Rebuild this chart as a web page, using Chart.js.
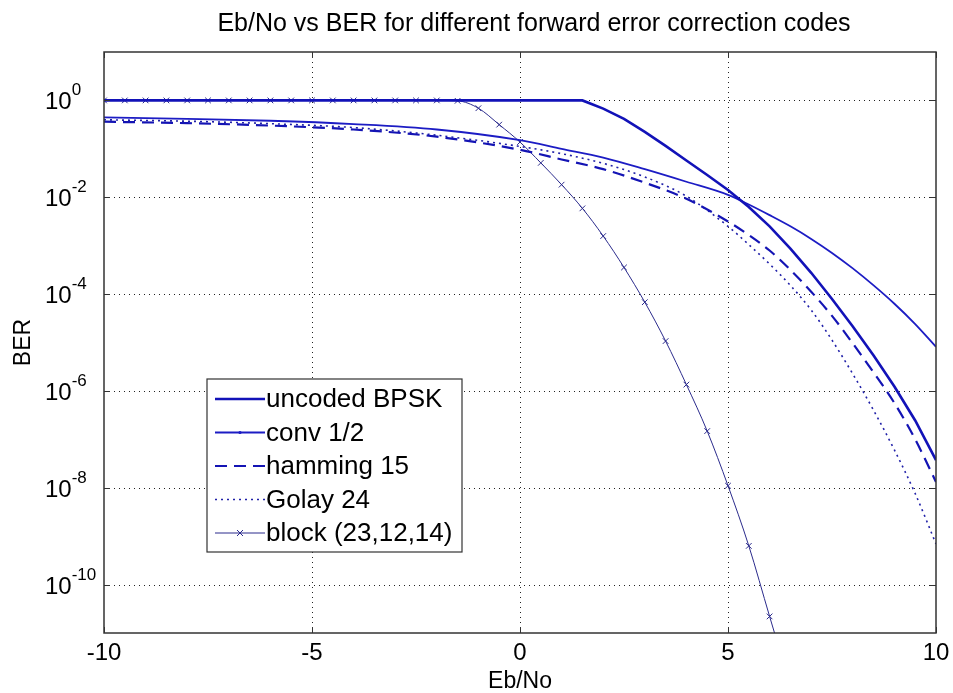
<!DOCTYPE html>
<html>
<head>
<meta charset="utf-8">
<title>Eb/No vs BER</title>
<script src="https://cdn.jsdelivr.net/npm/chart.js@4.4.0/dist/chart.umd.min.js"></script>
<style>
    html, body { margin: 0; padding: 0; background: #fff; }
    #wrap { position: relative; width: 953px; height: 693px; }
</style>
</head>
<body>
<div id="wrap"><canvas id="berChart" width="953" height="693"></canvas></div>
<script>
// --- DATA ---
const seriesNames = ['uncoded BPSK', 'conv 1/2', 'hamming 15', 'Golay 24', 'block (23,12,14)'];

const ebnoUncoded = [-10, -8, -6, -4, -2, 0, 1, 1.5, 2, 2.5, 3, 3.5, 4, 4.5, 5, 5.5, 6, 6.5, 7, 7.5, 8, 8.5, 9, 9.5, 10];
const berUncoded = [1, 1, 1, 1, 1, 1, 1, 1, 0.676, 0.417, 0.224, 0.115, 0.0575, 0.0288, 0.0141, 6.31e-3, 2.51e-3,
    8.71e-4, 2.75e-4, 7.94e-5, 2.14e-5, 5.37e-6, 1.23e-6, 2.45e-7, 3.72e-8];

const ebnoCoded = [-10, -8, -6, -4, -2, 0, 1, 2, 3, 4, 5, 5.5, 6, 6.5, 7, 7.5, 8, 8.5, 9, 9.5, 10];
const berConv = [0.447, 0.417, 0.380, 0.324, 0.251, 0.151, 0.100, 0.066, 0.038, 0.0209, 0.0112, 7.08e-3, 4.27e-3,
    2.51e-3, 1.38e-3, 7.08e-4, 3.39e-4, 1.51e-4, 6.31e-5, 2.40e-5, 8.13e-6];
const berHamming = [0.363, 0.339, 0.302, 0.251, 0.178, 0.0955, 0.0603, 0.038, 0.020, 9.3e-3, 3.16e-3, 1.66e-3, 7.94e-4,
    3.16e-4, 1.12e-4, 3.55e-5, 9.55e-6, 2.40e-6, 5.62e-7, 1.0e-7, 1.32e-8];
const berGolay = [0.398, 0.372, 0.331, 0.275, 0.191, 0.112, 0.0794, 0.0501, 0.0263, 0.0105, 2.51e-3, 1.05e-3, 4.17e-4,
    1.51e-4, 4.68e-5, 1.12e-5, 2.24e-6, 3.98e-7, 6.03e-8, 7.59e-9, 6.92e-10];

const ebnoBlock = [-10, -9.5, -9, -8.5, -8, -7.5, -7, -6.5, -6, -5.5, -5, -4.5, -4, -3.5, -3, -2.5, -2,
    -1.5, -1, -0.5, 0, 0.5, 1, 1.5, 2, 2.5, 3, 3.5, 4, 4.5, 5, 5.5, 6, 6.5];
const berBlock = [1, 1, 1, 1, 1, 1, 1, 1, 1, 1, 1, 1, 1, 1, 1, 1, 1,
    0.98, 0.69, 0.316, 0.138, 0.0513, 0.0182, 5.9e-3, 1.58e-3, 3.55e-4, 6.8e-5, 1.07e-5, 1.35e-6, 1.48e-7, 1.1e-8, 6.3e-10, 2.2e-11, 8e-13];

const xTicks = [-10, -5, 0, 5, 10];
const yTickExponents = [0, -2, -4, -6, -8, -10];

const FONT = '"Liberation Sans", Arial, sans-serif';

function toPoints(xs, ys) {
    return xs.map((x, i) => ({ x: x, y: ys[i] }));
}

// --- MATLAB-like axes, grid, labels and legend ---
const matlabAxes = {
    id: 'matlabAxes',
    beforeDatasetsDraw(chart) {
        const { ctx, chartArea: a, scales: { x, y } } = chart;
        ctx.save();
        ctx.strokeStyle = '#222';
        ctx.lineWidth = 1;
        ctx.setLineDash([1, 4]);
        xTicks.forEach(v => {
            if (v === x.min || v === x.max) return;
            const px = Math.round(x.getPixelForValue(v)) + 0.5;
            ctx.beginPath(); ctx.moveTo(px, a.top); ctx.lineTo(px, a.bottom); ctx.stroke();
        });
        yTickExponents.forEach(e => {
            const py = Math.round(y.getPixelForValue(Math.pow(10, e))) + 0.5;
            ctx.beginPath(); ctx.moveTo(a.left, py); ctx.lineTo(a.right, py); ctx.stroke();
        });
        ctx.restore();
    },
    afterDatasetsDraw(chart) {
        const { ctx, chartArea: a, scales: { x, y } } = chart;
        ctx.save();

        // axes box and inward ticks
        ctx.setLineDash([]);
        ctx.strokeStyle = '#333';
        ctx.lineWidth = 1.5;
        ctx.strokeRect(a.left, a.top, a.right - a.left, a.bottom - a.top);
        ctx.lineWidth = 1;
        const tl = 6;
        xTicks.forEach(v => {
            const px = Math.round(x.getPixelForValue(v)) + 0.5;
            ctx.beginPath();
            ctx.moveTo(px, a.bottom); ctx.lineTo(px, a.bottom - tl);
            ctx.moveTo(px, a.top); ctx.lineTo(px, a.top + tl);
            ctx.stroke();
        });
        yTickExponents.forEach(e => {
            const py = Math.round(y.getPixelForValue(Math.pow(10, e))) + 0.5;
            ctx.beginPath();
            ctx.moveTo(a.left, py); ctx.lineTo(a.left + tl, py);
            ctx.moveTo(a.right, py); ctx.lineTo(a.right - tl, py);
            ctx.stroke();
        });

        // tick labels
        ctx.fillStyle = '#000';
        ctx.font = '24px ' + FONT;
        ctx.textAlign = 'center';
        ctx.textBaseline = 'alphabetic';
        xTicks.forEach(v => {
            ctx.fillText(String(v), x.getPixelForValue(v), a.bottom + 27);
        });
        yTickExponents.forEach(e => {
            const py = y.getPixelForValue(Math.pow(10, e));
            ctx.textAlign = 'left';
            ctx.font = '24px ' + FONT;
            ctx.fillText('10', a.left - 59, py + 9);
            const baseW = ctx.measureText('10').width;
            ctx.font = '17px ' + FONT;
            ctx.fillText(String(e), a.left - 59 + baseW, py - 5);
        });

        // title and axis labels
        ctx.textAlign = 'center';
        ctx.font = '25px ' + FONT;
        ctx.fillText('Eb/No vs BER for different forward error correction codes', 534, 31);
        ctx.font = '23px ' + FONT;
        ctx.fillText('Eb/No', (a.left + a.right) / 2, 688);
        ctx.save();
        ctx.translate(30, (a.top + a.bottom) / 2);
        ctx.rotate(-Math.PI / 2);
        ctx.fillText('BER', 0, 0);
        ctx.restore();

        // legend box
        const lg = { left: a.left + 103, top: a.top + 327, width: 255, height: 173, row: 33.5 };
        ctx.fillStyle = '#fff';
        ctx.fillRect(lg.left, lg.top, lg.width, lg.height);
        ctx.strokeStyle = '#333';
        ctx.lineWidth = 1.2;
        ctx.strokeRect(lg.left, lg.top, lg.width, lg.height);
        chart.data.datasets.forEach((ds, i) => {
            const cy = lg.top + 20 + i * lg.row;
            const x0 = lg.left + 8, x1 = lg.left + 58;
            ctx.strokeStyle = ds.borderColor;
            ctx.lineWidth = ds.borderWidth;
            ctx.setLineDash(ds.borderDash || []);
            ctx.beginPath(); ctx.moveTo(x0, cy); ctx.lineTo(x1, cy); ctx.stroke();
            ctx.setLineDash([]);
            const mx = (x0 + x1) / 2;
            if (ds.pointStyle === 'crossRot') {
                ctx.lineWidth = 1;
                ctx.beginPath();
                ctx.moveTo(mx - 3, cy - 3); ctx.lineTo(mx + 3, cy + 3);
                ctx.moveTo(mx - 3, cy + 3); ctx.lineTo(mx + 3, cy - 3);
                ctx.stroke();
            } else if (i === 1) {
                ctx.fillStyle = ds.borderColor;
                ctx.beginPath(); ctx.arc(mx, cy, 1.6, 0, Math.PI * 2); ctx.fill();
            }
            ctx.fillStyle = '#000';
            ctx.font = '26px ' + FONT;
            ctx.textAlign = 'left';
            ctx.textBaseline = 'middle';
            ctx.fillText(seriesNames[i], x1 + 1, cy + 1);
        });

        ctx.restore();
    }
};

// --- CHART ---
document.addEventListener('DOMContentLoaded', function () {
    const ctx = document.getElementById('berChart').getContext('2d');
    new Chart(ctx, {
        type: 'line',
        data: {
            datasets: [
                {
                    label: seriesNames[0],
                    data: toPoints(ebnoUncoded, berUncoded),
                    borderColor: '#1212b8',
                    borderWidth: 2.6,
                    tension: 0
                },
                {
                    label: seriesNames[1],
                    data: toPoints(ebnoCoded, berConv),
                    borderColor: '#1c1cc4',
                    borderWidth: 1.8,
                    cubicInterpolationMode: 'monotone'
                },
                {
                    label: seriesNames[2],
                    data: toPoints(ebnoCoded, berHamming),
                    borderColor: '#1414b4',
                    borderWidth: 2.2,
                    borderDash: [12, 7],
                    cubicInterpolationMode: 'monotone'
                },
                {
                    label: seriesNames[3],
                    data: toPoints(ebnoCoded, berGolay),
                    borderColor: '#2020a8',
                    borderWidth: 1.6,
                    borderDash: [2, 4],
                    cubicInterpolationMode: 'monotone'
                },
                {
                    label: seriesNames[4],
                    data: toPoints(ebnoBlock, berBlock),
                    borderColor: '#2b2b8c',
                    borderWidth: 1,
                    pointStyle: 'crossRot',
                    pointRadius: 4,
                    pointBorderWidth: 1,
                    pointBorderColor: '#2b2b8c',
                    cubicInterpolationMode: 'monotone'
                }
            ]
        },
        options: {
            responsive: false,
            animation: false,
            layout: { padding: { left: 104, right: 17, top: 52, bottom: 60 } },
            elements: { point: { radius: 0 } },
            plugins: {
                legend: { display: false },
                title: { display: false },
                tooltip: { enabled: false }
            },
            scales: {
                x: { type: 'linear', min: -10, max: 10, display: false },
                y: { type: 'logarithmic', min: 1e-11, max: 10, display: false }
            }
        },
        plugins: [matlabAxes]
    });
});
</script>
</body>
</html>
